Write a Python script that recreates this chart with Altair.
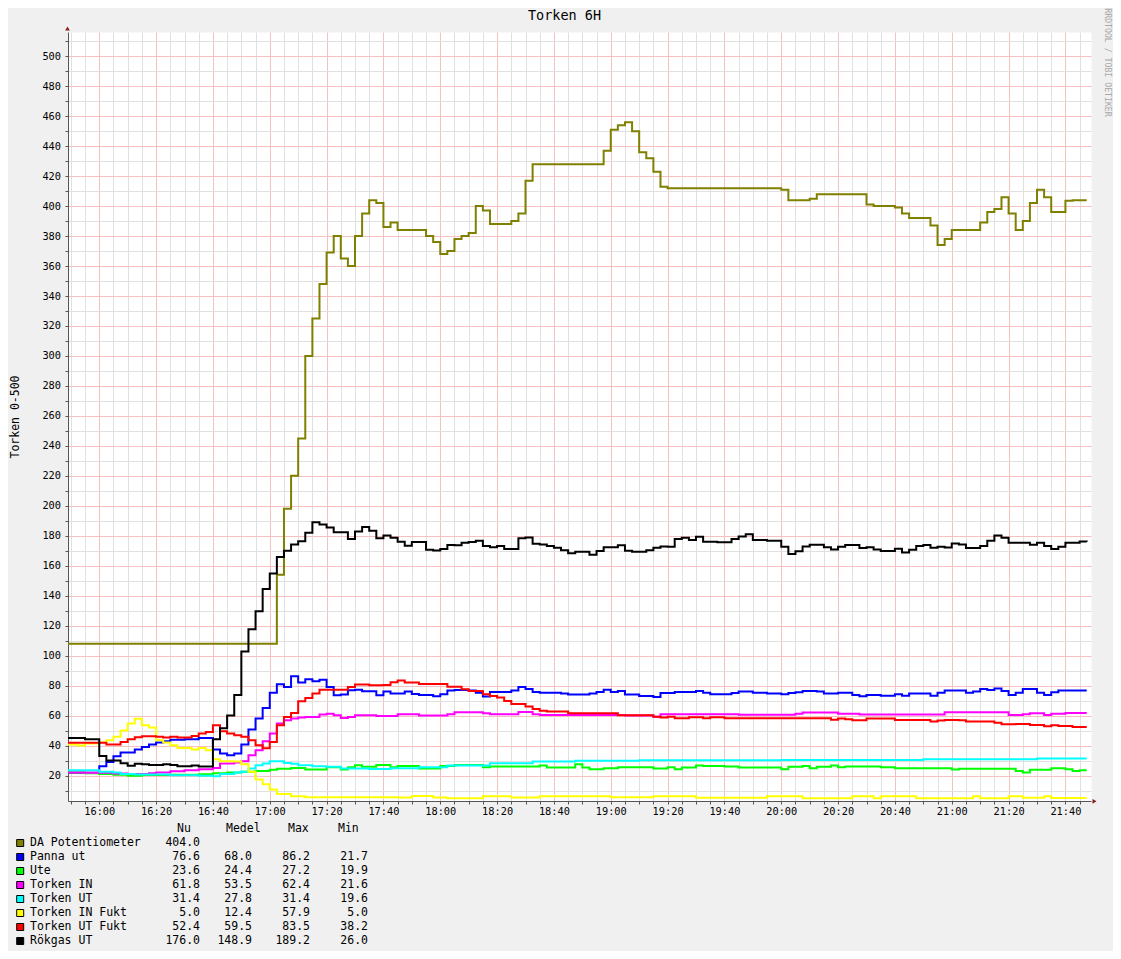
import altair as alt
import pandas as pd

TITLE = "Torken 6H"
Y_TITLE = "Torken 0-500"
WATERMARK = "RRDTOOL / TOBI OETIKER"
FONT = "DejaVu Sans Mono"

series_names = ["DA Potentiometer", "Panna ut", "Ute", "Torken IN", "Torken UT",
                "Torken IN Fukt", "Torken UT Fukt", "Rökgas UT"]
series_colors = ["#808000", "#0000ff", "#00ff00", "#ff00ff", "#00ffff",
                 "#ffff00", "#ff0000", "#000000"]

# step change points: (minutes relative to 16:00, value); last point closes the step
da_pot = [(-11, 108), (62.5, 154), (65, 198), (67.5, 220), (70, 245), (72.5, 300), (75, 325),
          (77.5, 348), (80, 369), (82.5, 380), (85, 365), (87.5, 360), (90, 380), (92.5, 395),
          (95, 404), (97.5, 402), (100, 386), (102.5, 389), (105, 384), (115, 380), (117.5, 376),
          (120, 368), (122.5, 370), (125, 378), (127.5, 380), (130, 382), (132.5, 400), (135, 397),
          (137.5, 388), (145, 390), (147.5, 395), (150, 417), (152.5, 428), (177.5, 437), (180, 451),
          (182.5, 454), (185, 456), (187.5, 450), (190, 436), (192.5, 432), (195, 423), (197.5, 413),
          (200, 412), (240, 411), (242.5, 404), (250, 405), (252.5, 408), (270, 401), (272.5, 400),
          (280, 399), (282.5, 395), (285, 392), (292.5, 387), (295, 374), (297.5, 378), (300, 384),
          (310, 389), (312.5, 396), (315, 398), (317.5, 406), (320, 395), (322.5, 384), (325, 390),
          (327.5, 402), (330, 411), (332.5, 406), (335, 396), (340, 403.5), (342.5, 404), (347.5, 404)]

panna_ut = [(-11, 21.8), (0, 26.2), (2.5, 29.1), (5, 32.9), (7.5, 35.3), (12.5, 37.3), (15, 39.1),
            (17.5, 40.7), (20, 42), (22.5, 42.9), (25, 43.8), (30, 44.2), (35, 45.1), (40, 37.3),
            (42.5, 34.7), (45, 33.6), (47.5, 34.7), (50, 40.7), (52.5, 50.7), (55, 58), (57.5, 65.1),
            (60, 75.3), (62.5, 80.9), (65, 79.1), (67.5, 86.2), (70, 82), (72.5, 84.2), (75, 82.9),
            (77.5, 84), (80, 79.1), (82.5, 73.6), (85, 74), (87.5, 76.9), (90, 77.3), (92.5, 76.2),
            (97.5, 73.6), (100, 76), (102.5, 74.7), (107.5, 76), (110, 74.4), (112.5, 73.8),
            (117.5, 72.9), (120, 74.2), (122.5, 76.7), (125, 77.1), (130, 76.7), (132.5, 75.3),
            (135, 72.7), (137.5, 75.8), (145, 76.7), (147.5, 79.1), (150, 77.8), (152.5, 75.8),
            (155, 75.3), (162.5, 74.7), (165, 74), (172.5, 74.7), (175, 75.8), (177.5, 77.3),
            (180, 75.8), (182.5, 76.4), (185, 74), (190, 73.1), (195, 72.4), (197.5, 75.1),
            (202.5, 75.8), (210, 76.4), (212.5, 75.3), (215, 74.2), (222.5, 75.1), (225, 76),
            (230, 75.3), (235, 74.7), (240, 74.2), (242.5, 75), (245, 75.6), (247.5, 76.4),
            (252.5, 76), (255, 74.7), (260, 75.3), (265, 73.8), (267.5, 72.9), (270, 73.8),
            (275, 73.3), (280, 74.2), (282.5, 73.3), (285, 74.7), (292.5, 73.3), (295, 75.3),
            (297.5, 76.7), (305, 75.3), (307.5, 76), (310, 77.8), (312.5, 77.1), (315, 78),
            (317.5, 76.4), (320, 73.8), (322.5, 75.3), (325, 77.8), (330, 75.3), (332.5, 73.8),
            (335, 75.6), (337.5, 76.7), (347.5, 76.7)]

ute = [(-11, 22), (-5, 21.5), (0, 21), (5, 20.5), (10, 19.9), (15, 20.4), (25, 20.6), (35, 20.8),
       (40, 21.5), (45, 22), (50, 22.5), (55, 23), (60, 23.8), (62.5, 24.5), (67.5, 25), (72.5, 24),
       (80, 25.5), (85, 24), (87.5, 25.6), (90, 26.9), (92.5, 25.8), (97.5, 27.1), (102.5, 25.6),
       (105, 26.4), (112.5, 24.7), (120, 26.4), (125, 27), (135, 25.6), (137.5, 26), (155, 26.7),
       (157.5, 25.3), (167.5, 27.5), (170, 25.3), (172.5, 24.2), (177.5, 24.9), (182.5, 25.5),
       (195, 24.7), (200, 25.5), (202.5, 24.2), (205, 25.3), (210, 26.7), (212.5, 26.4),
       (220, 26), (225, 25.3), (240, 24.2), (242.5, 25.8), (247.5, 26.4), (250, 24.9),
       (252.5, 25.8), (257.5, 26.7), (260, 25.6), (262.5, 26), (275, 25.6), (280, 24.9),
       (300, 24), (302.5, 24.6), (322.5, 23.1), (325, 22), (327.5, 23.8), (335, 24.9),
       (340, 24.2), (342.5, 23.1), (345, 23.6), (347.5, 23.6)]

torken_in = [(-11, 22), (-5, 21.8), (5, 21.3), (10, 21.1), (17.5, 21.5), (20, 22), (25, 22.9),
             (30, 23.6), (35, 24.2), (40, 25.1), (42.5, 28), (47.5, 28.7), (50, 29.6), (52.5, 33.6),
             (55, 36.9), (57.5, 42.9), (60, 48), (62.5, 54.7), (65, 56.9), (67.5, 58), (70, 58.7),
             (72.5, 59.1), (77.5, 60.7), (80, 61.3), (82.5, 60.2), (85, 58.4), (87.5, 59.1),
             (90, 60.2), (97.5, 59.8), (105, 60.9), (112.5, 60), (122.5, 60.9), (125, 62.2),
             (135, 61.6), (137.5, 60.9), (147.5, 62.4), (152.5, 60.9), (155, 60.4), (185, 60),
             (195, 59.3), (197.5, 60.9), (225, 60.6), (245, 61.2), (247.5, 62), (260, 61.3),
             (267.5, 60.7), (297.5, 62.3), (320, 60.4), (325, 60.9), (327.5, 61.6), (332.5, 60.4),
             (335, 61.3), (340, 61.8), (347.5, 61.8)]

torken_ut = [(-11, 23.6), (0, 22.5), (5, 22), (7.5, 21.1), (12.5, 20.7), (25, 20.2), (35, 19.8),
             (40, 19.6), (42.5, 21.1), (47.5, 22), (50, 22.5), (52.5, 24.7), (55, 26.9), (57.5, 28),
             (60, 29.6), (65, 28.4), (67.5, 27.8), (70, 26.9), (75, 26.2), (80, 25.8), (85, 24.7),
             (95, 24.4), (102.5, 24.9), (112.5, 25.5), (122.5, 26.7), (137.5, 28.2), (152.5, 29.3),
             (167.5, 29.8), (190, 30.2), (240, 30.4), (290, 30.9), (330, 31.4), (347.5, 31.4)]

torken_in_fukt = [(-11, 40.7), (-7.5, 40), (-5, 41.3), (0, 42), (2.5, 43.6), (5, 45.8), (7.5, 50),
                  (10, 54.7), (12.5, 57.9), (15, 53.6), (17.5, 52), (20, 43.6), (22.5, 42), (25, 40.2),
                  (27.5, 38.4), (32.5, 37.3), (35, 38.4), (37.5, 36.8), (40, 30.9), (42.5, 29.6),
                  (47.5, 29.3), (50, 27.6), (52.5, 22.5), (55, 17.3), (57.5, 14.2), (60, 10.7),
                  (62.5, 7.6), (67.5, 6.2), (72.5, 5.5), (105, 5.3), (110, 6.4), (117.5, 5.3),
                  (122.5, 4.9), (135, 6.2), (145, 5.3), (155, 6.2), (180, 5.5), (195, 6.2),
                  (210, 5.2), (235, 6.2), (247.5, 4.9), (265, 6.2), (272.5, 4.9), (275, 6.2),
                  (287.5, 4.9), (307.5, 6.2), (310, 4.9), (320, 6.2), (325, 5.1), (332.5, 6.2),
                  (335, 5.0), (347.5, 5.0)]

torken_ut_fukt = [(-11, 41.8), (2.5, 40.7), (7.5, 42.4), (10, 44.2), (12.5, 45.6), (15, 46.2),
                  (20, 45.8), (22.5, 45.3), (25, 45.8), (27.5, 45.3), (32.5, 46.4), (35, 48),
                  (37.5, 49.1), (40, 53.6), (42.5, 49.6), (45, 48), (47.5, 46.9), (50, 45.8),
                  (52.5, 43.6), (55, 40.2), (57.5, 38.2), (60, 42.4), (62.5, 53.6), (65, 59.1),
                  (67.5, 61.8), (70, 69.6), (72.5, 71.8), (75, 74.7), (77.5, 77.3), (87.5, 79.1),
                  (90, 80.7), (95, 80.2), (100, 80.4), (102.5, 82.2), (105, 83.5), (107.5, 82),
                  (112.5, 81.1), (122.5, 79.3), (127.5, 77.6), (130, 76.4), (135, 74.2), (137.5, 73.1),
                  (140, 72), (142.5, 69.8), (145, 67.8), (150, 66), (152.5, 64.4), (155, 63.3),
                  (157.5, 62.7), (165, 61.6), (182.5, 60.2), (195, 59.3), (197.5, 58.7), (200, 59.3),
                  (202.5, 58.2), (207.5, 58.9), (212.5, 58.2), (215, 58.9), (220, 58.2),
                  (257.5, 57.3), (260, 58), (262.5, 57.6), (265, 56.9), (270, 58), (280, 57.1),
                  (292.5, 56), (295, 56.7), (297.5, 57.1), (302.5, 56.9), (305, 56), (315, 55.3),
                  (317.5, 54.2), (322.5, 54.4), (327.5, 53.8), (332.5, 52.9), (335, 53.6),
                  (337.5, 53.1), (342.5, 52.4), (347.5, 52.4)]

rokgas_ut = [(-11, 45.1), (-5, 44.2), (0, 33), (2.5, 30), (7.5, 28.2), (10, 26.5), (12.5, 27.8),
             (15, 27.6), (17.5, 27), (22.5, 27.6), (25, 27), (27.5, 26.2), (32.5, 26.7), (35, 26),
             (40, 44.2), (42.5, 51.6), (45, 60), (47.5, 73.8), (50, 102.7), (52.5, 117.6),
             (55, 129.6), (57.5, 144.4), (60, 154.9), (62.5, 165.8), (65, 170), (67.5, 174.2),
             (70, 176.4), (72.5, 182), (75, 189.1), (77.5, 187.6), (80, 185.6), (82.5, 182.4),
             (87.5, 177.8), (90, 182.9), (92.5, 185.8), (95, 183.3), (97.5, 178.4), (100, 180.2),
             (102.5, 178.7), (105, 176), (107.5, 173.3), (110, 175.8), (115, 170.7), (117.5, 170.2),
             (120, 171.1), (122.5, 173.8), (125, 173.6), (127.5, 175.3), (130, 175.8), (132.5, 176.7),
             (135, 173.1), (137.5, 172.4), (140, 173.1), (142.5, 171.1), (147.5, 178.4), (150, 178.9),
             (152.5, 174.7), (155, 174.2), (157.5, 173.1), (160, 172), (162.5, 170.4), (165, 168.4),
             (167.5, 169.3), (172.5, 167.3), (175, 169.8), (177.5, 172.4), (182.5, 173.6), (185, 170),
             (187.5, 169.3), (192.5, 170.4), (195, 172), (197.5, 172.9), (200, 172.7), (202.5, 177.8),
             (205, 178.7), (207.5, 177.1), (210, 179.3), (212.5, 176), (217.5, 175.6), (222.5, 177.8),
             (225, 179.6), (227.5, 181.1), (230, 177.1), (235, 176.7), (240, 172.7), (242.5, 167.8),
             (245, 169.6), (247.5, 172.9), (250, 174), (255, 172.4), (257.5, 170.9), (260, 172.7),
             (262.5, 173.8), (267.5, 171.8), (270, 172.4), (272.5, 170.9), (275, 169.8), (280, 171.3),
             (282.5, 168.9), (285, 170.7), (287.5, 173.1), (290, 173.8), (292.5, 172), (295, 172.7),
             (297.5, 172.2), (300, 174.9), (302.5, 174.2), (305, 171.8), (310, 173.1), (312.5, 176.7),
             (315, 180.2), (317.5, 178.7), (320, 175.3), (327.5, 174), (330, 175.3), (332.5, 173.1),
             (335, 171.1), (337.5, 172.7), (340, 175.3), (345, 176.2), (347.5, 176)]

series_data = [da_pot, panna_ut, ute, torken_in, torken_ut, torken_in_fukt, torken_ut_fukt, rokgas_ut]

legend_headers = ["Nu", "Medel", "Max", "Min"]
legend_nu = [404.0, 76.6, 23.6, 61.8, 31.4, 5.0, 52.4, 176.0]
legend_medel = [None, 68.0, 24.4, 53.5, 27.8, 12.4, 59.5, 148.9]
legend_max = [None, 86.2, 27.2, 62.4, 31.4, 57.9, 83.5, 189.2]
legend_min = [None, 21.7, 19.9, 21.6, 19.6, 5.0, 38.2, 26.0]

# ---------------- styling / layout ----------------
W, H = 1023, 769
GRID_MAJOR = "#f4c0c0"
GRID_MINOR = "#e0e0e0"
AXIS_COL = "#555555"
ARROW_COL = "#8b1c1c"

x_axis = alt.Axis(
    values=list(range(-10, 349, 5)),
    title=None,
    grid=True,
    gridColor={"condition": {"test": "datum.value % 20 === 0", "value": GRID_MAJOR}, "value": GRID_MINOR},
    gridWidth=1,
    domainColor=AXIS_COL,
    tickColor=AXIS_COL,
    tickSize=3,
    labelExpr="datum.value % 20 === 0 ? (16 + floor(datum.value / 60)) + ':' + "
              "(datum.value % 60 === 0 ? '00' : datum.value % 60) : ''",
    labelFont=FONT,
    labelFontSize=10.3,
    labelColor="#000000",
    labelPadding=2,
    labelOverlap=False,
    labelFlush=False,
)
y_axis = alt.Axis(
    values=list(range(10, 516, 10)),
    title=Y_TITLE,
    titleFont=FONT,
    titleFontSize=11.5,
    titleFontWeight="normal",
    titleColor="#000000",
    titleX=-53,
    titleY=H / 2,
    titleAngle=270,
    titleAlign="center",
    titleBaseline="middle",
    grid=True,
    gridColor={"condition": {"test": "datum.value % 20 === 0", "value": GRID_MAJOR}, "value": GRID_MINOR},
    gridWidth=1,
    domainColor=AXIS_COL,
    tickColor=AXIS_COL,
    tickSize=3,
    labelExpr="datum.value % 20 === 0 ? datum.value : ''",
    labelFont=FONT,
    labelFontSize=10.3,
    labelColor="#000000",
    labelPadding=4.5,
    labelOverlap=False,
    labelFlush=False,
)

X = alt.X("t:Q", scale=alt.Scale(domain=[-11, 349], nice=False, zero=False), axis=x_axis)
Y = alt.Y("v:Q", scale=alt.Scale(domain=[3.0, 516.2], nice=False, zero=False), axis=y_axis)

layers = []
for name, color, pts in zip(series_names, series_colors, series_data):
    df = pd.DataFrame(pts, columns=["t", "v"])
    df["series"] = name
    layers.append(
        alt.Chart(df).mark_line(interpolate="step-after", color=color, strokeWidth=2, clip=True)
        .encode(x=X, y=Y)
    )

one = pd.DataFrame({"k": [0]})


def txt(text, x, y, size=11.5, align="left", color="#000000", angle=0, baseline="middle"):
    kw = dict(text=text, font=FONT, fontSize=size, align=align, baseline=baseline, color=color)
    if angle:
        kw["angle"] = angle
    return alt.Chart(one).mark_text(**kw).encode(x=alt.value(x), y=alt.value(y))


# title and watermark
layers.append(txt(TITLE, 496.5, -16, size=13.5, align="center"))
layers.append(txt(WATERMARK, 1039, 30.5, size=8.2, align="center", color="#a8a8a8", angle=90))

# axis arrows
layers.append(alt.Chart(one).mark_point(shape="triangle-up", filled=True, size=22, color=ARROW_COL, opacity=1)
              .encode(x=alt.value(-0.5), y=alt.value(-3.5)))
layers.append(alt.Chart(one).mark_point(shape="triangle-right", filled=True, size=22, color=ARROW_COL, opacity=1)
              .encode(x=alt.value(W + 3.5), y=alt.value(H + 0.3)))

# legend
hdr_x = [109, 158, 220, 270]
col_right = [132, 184, 242, 300]
for h, hx in zip(legend_headers, hdr_x):
    layers.append(txt(h, hx, 797))
cols = [legend_nu, legend_medel, legend_max, legend_min]
for i, (name, color) in enumerate(zip(series_names, series_colors)):
    ry = 811 + 14 * i
    layers.append(alt.Chart(one).mark_square(size=49, color=color, stroke="#000000", strokeWidth=1, opacity=1)
                  .encode(x=alt.value(-47.8), y=alt.value(ry)))
    layers.append(txt(name, -38, ry))
    for col, cx in zip(cols, col_right):
        if col[i] is not None:
            layers.append(txt(f"{col[i]:.1f}", cx, ry, align="right"))

chart = alt.layer(*layers).properties(
    width=W,
    height=H,
    padding={"left": 60, "top": 24, "right": 22, "bottom": 150},
    autosize=alt.AutoSizeParams(type="none"),
    background="#f0f0f0",
).configure_view(fill="#ffffff", stroke="transparent")

chart.save("out.html", embed_options={"renderer": "svg", "actions": False})
